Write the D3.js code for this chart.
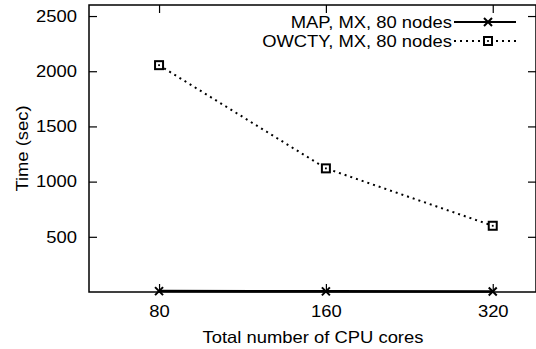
<!DOCTYPE html>
<html>
<head>
<meta charset="utf-8">
<script src="https://cdn.jsdelivr.net/npm/d3@7"></script>
<style>
  body { margin: 0; background: #fff; }
  svg { display: block; }
  svg text { font-family: "Liberation Sans", Arial, sans-serif; fill: #000; }
</style>
</head>
<body>
<svg id="chart" width="536" height="349"></svg>
<script>
// data
const cores = [80, 160, 320];
const mapTime = [8, 6, 5];
const owctyTime = [2055, 1120, 600];
const yTicks = [500, 1000, 1500, 2000, 2500];
const seriesNames = ["MAP, MX, 80 nodes", "OWCTY, MX, 80 nodes"];

const W = 536, H = 349;
const margin = { top: 5, right: 0, bottom: 57, left: 89 };
const fs = 16.5;
const stretch = 1.115; // reference glyphs are a bit wider than Liberation Sans

const svg = d3.select("#chart");

const x = d3.scaleLog()
    .domain([59.8, 383])
    .range([margin.left, W - margin.right]);

const y = d3.scaleLinear()
    .domain([0, 2600])
    .range([H - margin.bottom, margin.top]);

const tick = 8;

const styleAxis = g => {
    g.attr("font-family", null).attr("font-size", fs);
    g.select(".domain").remove();
    g.selectAll("line").attr("stroke", "#000").attr("stroke-width", 1.2);
    g.selectAll("text").attr("fill", "#000");
};

// left axis (ticks inward)
svg.append("g")
    .attr("transform", `translate(${margin.left},0)`)
    .call(d3.axisLeft(y).tickValues(yTicks).tickFormat(d3.format("d")).tickSize(-tick).tickPadding(12))
    .call(styleAxis);

// right mirror ticks
svg.append("g")
    .attr("transform", `translate(${W - margin.right},0)`)
    .call(d3.axisRight(y).tickValues(yTicks).tickSize(-tick).tickFormat(""))
    .call(styleAxis);

// bottom axis (ticks inward)
svg.append("g")
    .attr("transform", `translate(0,${y(0)})`)
    .call(d3.axisBottom(x).tickValues(cores).tickFormat(d3.format("d")).tickSize(-tick).tickPadding(13))
    .call(styleAxis);

// top mirror ticks
svg.append("g")
    .attr("transform", `translate(0,${margin.top})`)
    .call(d3.axisTop(x).tickValues(cores).tickSize(-tick).tickFormat(""))
    .call(styleAxis);

// frame
svg.append("rect")
    .attr("x", margin.left)
    .attr("y", margin.top)
    .attr("width", W - margin.right - margin.left)
    .attr("height", y(0) - margin.top)
    .attr("fill", "none")
    .attr("stroke", "#000")
    .attr("stroke-width", 1.5);

// axis titles
svg.append("text")
    .attr("x", 313)
    .attr("y", 343)
    .attr("text-anchor", "middle")
    .attr("font-size", fs)
    .text("Total number of CPU cores");

svg.append("text")
    .attr("transform", `translate(28,${(margin.top + y(0)) / 2}) rotate(-90)`)
    .attr("text-anchor", "middle")
    .attr("font-size", fs)
    .text("Time (sec)");

const line = d3.line()
    .x((d, i) => x(cores[i]))
    .y(d => y(d));

// markers
function cross(g, cx, cy) {
    const s = 4;
    g.append("path")
        .attr("d", `M${cx - s},${cy - s}L${cx + s},${cy + s}M${cx - s},${cy + s}L${cx + s},${cy - s}`)
        .attr("stroke", "#000")
        .attr("stroke-width", 2)
        .attr("fill", "none");
}

function box(g, cx, cy) {
    const s = 4;
    g.append("rect")
        .attr("x", cx - s).attr("y", cy - s)
        .attr("width", 2 * s).attr("height", 2 * s)
        .attr("fill", "#fff")
        .attr("stroke", "#000")
        .attr("stroke-width", 2);
    g.append("rect")
        .attr("x", cx - 0.9).attr("y", cy - 0.9)
        .attr("width", 1.8).attr("height", 1.8)
        .attr("fill", "#000");
}

// OWCTY series (dotted)
svg.append("path")
    .datum(owctyTime)
    .attr("d", line)
    .attr("fill", "none")
    .attr("stroke", "#000")
    .attr("stroke-width", 2)
    .attr("stroke-dasharray", "2,4");

// MAP series (solid)
svg.append("path")
    .datum(mapTime)
    .attr("d", line)
    .attr("fill", "none")
    .attr("stroke", "#000")
    .attr("stroke-width", 2.5);

const marks = svg.append("g");
owctyTime.forEach((v, i) => box(marks, x(cores[i]), y(v)));
mapTime.forEach((v, i) => cross(marks, x(cores[i]), y(v)));

// legend
const legend = svg.append("g");
const lx0 = 454, lx1 = 516, ly = [22, 41];
seriesNames.forEach((name, i) => {
    legend.append("text")
        .attr("x", 452)
        .attr("y", ly[i])
        .attr("dy", "0.35em")
        .attr("text-anchor", "end")
        .attr("font-size", fs)
        .text(name);
    legend.append("line")
        .attr("x1", lx0).attr("x2", lx1)
        .attr("y1", ly[i]).attr("y2", ly[i])
        .attr("stroke", "#000")
        .attr("stroke-width", i === 0 ? 2 : 2)
        .attr("stroke-dasharray", i === 0 ? null : "2,4");
    if (i === 0) cross(legend, (lx0 + lx1) / 2 + 3, ly[i]);
    else box(legend, (lx0 + lx1) / 2 + 3, ly[i]);
});

// widen every label a little to match the reference glyph width
svg.selectAll("text").each(function () {
    const len = this.getComputedTextLength();
    if (len > 0) {
        d3.select(this)
            .attr("textLength", len * stretch)
            .attr("lengthAdjust", "spacingAndGlyphs");
    }
});
</script>
</body>
</html>
